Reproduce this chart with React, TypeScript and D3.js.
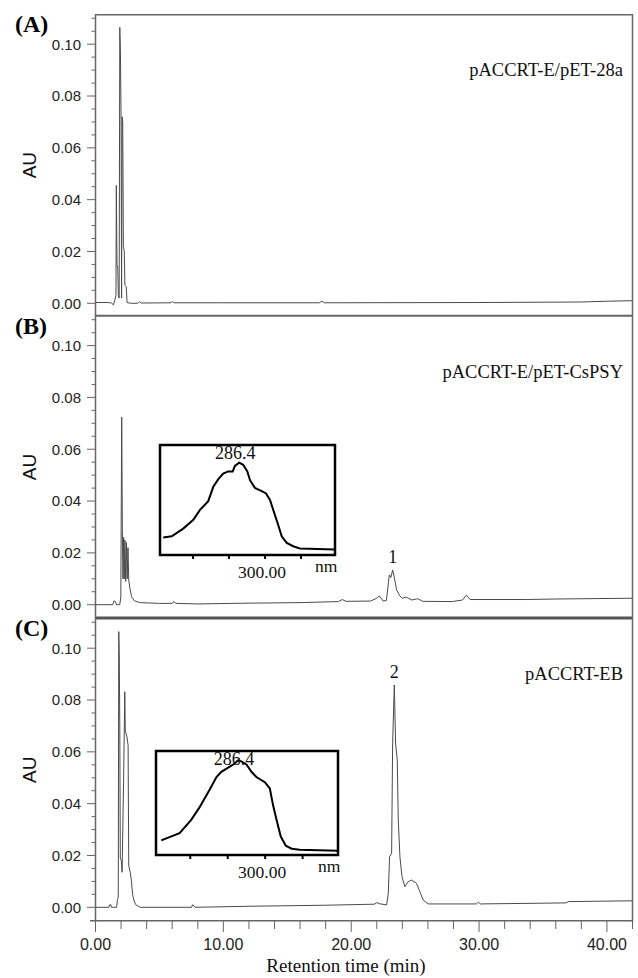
import React from "react";
import * as d3 from "d3";

// ---------- data ----------
const panelIds = ["(A)", "(B)", "(C)"];
const sampleNames = ["pACCRT-E/pET-28a", "pACCRT-E/pET-CsPSY", "pACCRT-EB"];

const traceA: [number, number][] = [
  [0, 0.0003], [1.0, 0.0003], [1.25, 0.0001], [1.4, -0.0006], [1.5, 0.001], [1.6, 0.003],
  [1.63, 0.0455], [1.68, 0.015], [1.74, 0.0135], [1.79, 0.003], [1.85, 0.002], [1.9, 0.1065],
  [1.95, 0.097], [2.0, 0.072], [2.04, 0.002], [2.08, 0.072], [2.13, 0.07], [2.18, 0.022],
  [2.25, 0.02], [2.3, 0.007], [2.4, 0.0065], [2.47, 0.0003], [2.8, 0.0], [3.3, 0.0],
  [3.45, 0.0006], [3.55, 0.0001], [5.9, 0.0002], [6.0, 0.0007], [6.15, 0.0002], [10, 0.0002],
  [17.5, 0.0002], [17.7, 0.0008], [17.9, 0.0002], [30, 0.0003], [38, 0.0005], [40, 0.0008], [42, 0.001],
];

const traceB: [number, number][] = [
  [0, 0.0], [1.35, 0.0], [1.45, 0.0015], [1.55, 0.0012], [1.65, 0.0], [1.9, 0.0], [1.98, 0.003],
  [2.05, 0.0724], [2.1, 0.029], [2.15, 0.01], [2.2, 0.026], [2.25, 0.01], [2.3, 0.025], [2.36, 0.009],
  [2.42, 0.024], [2.48, 0.01], [2.54, 0.022], [2.6, 0.0095], [2.7, 0.006], [2.83, 0.003], [3.04, 0.0015],
  [3.5, 0.0008], [5, 0.0005], [6.0, 0.0005], [6.1, 0.0012], [6.3, 0.0005], [8, 0.0003], [12, 0.0006],
  [16, 0.0008], [19.0, 0.0012], [19.3, 0.002], [19.6, 0.0013], [21.5, 0.0014], [22.0, 0.0025],
  [22.2, 0.0034], [22.5, 0.0014], [22.75, 0.0016], [22.98, 0.0115], [23.1, 0.0105], [23.24, 0.0134],
  [23.35, 0.011], [23.55, 0.0057], [23.8, 0.0034], [24.0, 0.0025], [24.3, 0.0029], [24.75, 0.0018],
  [25.2, 0.0023], [25.6, 0.0013], [27.9, 0.0012], [28.7, 0.0018], [29.0, 0.0037], [29.3, 0.002],
  [33.7, 0.002], [36, 0.0022], [42, 0.0025],
];

const traceC: [number, number][] = [
  [0, 0], [1.05, 0], [1.12, 0.001], [1.2, 0.001], [1.25, 0], [1.65, 0], [1.72, 0.003], [1.78, 0.004],
  [1.82, 0.1064], [1.86, 0.097], [1.9, 0.07], [1.94, 0.019], [2.02, 0.018], [2.08, 0.0135], [2.2, 0.05],
  [2.29, 0.0832], [2.33, 0.068], [2.45, 0.066], [2.55, 0.0625], [2.6, 0.016], [2.72, 0.0135],
  [2.8, 0.0105], [2.9, 0.005], [3.0, 0.0028], [3.15, 0.001], [3.5, 0.0], [7.5, 0.0], [7.6, 0.001],
  [7.8, 0.0], [12, 0.0004], [18, 0.0008], [21.8, 0.0012], [22.0, 0.0018], [22.2, 0.0014],
  [22.77, 0.0009], [22.9, 0.0054], [23.0, 0.0195], [23.16, 0.0208], [23.24, 0.0633], [23.37, 0.0858],
  [23.47, 0.0634], [23.6, 0.0569], [23.68, 0.0337], [23.81, 0.0195], [23.97, 0.0118], [24.2, 0.008],
  [24.46, 0.0099], [24.72, 0.0105], [25.1, 0.0093], [25.37, 0.006], [25.63, 0.0028], [26.02, 0.0013],
  [29.8, 0.0013], [29.95, 0.002], [30.1, 0.0013], [36.8, 0.0017], [37, 0.0022], [42, 0.0025],
];

// peak labels: [panel index, label, time, value]
const peakLabels: [number, string, number, number][] = [
  [1, "1", 23.24, 0.0134],
  [2, "2", 23.37, 0.0858],
];

// UV spectra (insets)
const spectrumB_nm = [243.5, 248.2, 254.6, 260.2, 263.9, 268.5, 271.3, 274.1, 276.8, 279.6, 282.1, 283.3, 285.7, 287.9, 290.2, 291.7, 294.4, 298.2, 300.6, 302.8, 305, 307.4, 309.3, 312.1, 315.7, 319.4, 338.9];
const spectrumB_v = [0.16, 0.17, 0.24, 0.32, 0.41, 0.49, 0.62, 0.69, 0.74, 0.76, 0.76, 0.81, 0.84, 0.82, 0.76, 0.68, 0.61, 0.58, 0.56, 0.5, 0.39, 0.27, 0.17, 0.11, 0.08, 0.06, 0.05];
const spectrumC_nm = [244.5, 254.3, 260.6, 265.0, 270.4, 274.0, 276.6, 281.1, 283.7, 285.5, 287.3, 290.0, 292.7, 295.3, 299.8, 302.5, 304.2, 306.2, 308.3, 311, 314.2, 318.5, 338.8];
const spectrumC_v = [0.14, 0.21, 0.34, 0.46, 0.63, 0.75, 0.8, 0.85, 0.88, 0.91, 0.9, 0.87, 0.8, 0.75, 0.7, 0.64, 0.48, 0.33, 0.18, 0.09, 0.06, 0.05, 0.04];
const spectrumPeakLabel = "286.4";
const spectrumTicks = [260, 280, 300, 320];
const spectrumTickLabel = "300.00";

const yMajorTicks = [0, 0.02, 0.04, 0.06, 0.08, 0.1];
const yTickLabels = ["0.00", "0.02", "0.04", "0.06", "0.08", "0.10"];
const xMajorTicks = [0, 10, 20, 30, 40];
const xTickLabels = ["0.00", "10.00", "20.00", "30.00", "40.00"];

// ---------- layout ----------
const W = 638;
const H = 978;
const SERIF = "'Liberation Serif', 'Times New Roman', serif";
const SANS = "'Liberation Sans', Arial, sans-serif";
const AXIS = "#666";
const TRACE = "#4a4a4a";

const layout = [
  { top: 14.7, zero: 303.3, bottom: 315.5 },
  { top: 316.5, zero: 604.7, bottom: 617.5 },
  { top: 618.7, zero: 907.3, bottom: 920.7 },
];

const x = d3.scaleLinear().domain([0, 42]).range([95.5, 632.5]);

export default function App() {
  const traces = [traceA, traceB, traceC];
  const minorY = d3.range(0, 0.1101, 0.005);
  const minorX = d3.range(0, 42.01, 2);

  const insets = [
    { nm: spectrumB_nm, v: spectrumB_v, x0: 160, x1: 335, y0: 445, y1: 555 },
    { nm: spectrumC_nm, v: spectrumC_v, x0: 156, x1: 338, y0: 751, y1: 855 },
  ];

  return (
    <svg width={W} height={H} style={{ position: "absolute", left: 0, top: 0, background: "#fff" }}>
      <rect x={0} y={0} width={W} height={H} fill="#fff" />
      {layout.map((p, i) => {
        const y = d3.scaleLinear().domain([0, 0.1]).range([p.zero, p.zero - 259.1]);
        const line = d3
          .line<[number, number]>()
          .x((d) => x(d[0]))
          .y((d) => y(d[1]));
        return (
          <g key={i}>
            {minorY
              .filter((v) => y(v) >= p.top + 1)
              .map((v, j) => {
                const major = yMajorTicks.some((m) => Math.abs(m - v) < 1e-6);
                return (
                  <line key={j} x1={major ? 87 : 91.5} x2={95.5} y1={y(v)} y2={y(v)} stroke={AXIS} strokeWidth={1} />
                );
              })}
            {yMajorTicks.map((v, j) => (
              <text key={j} x={81} y={y(v)} dy="0.36em" textAnchor="end" fontFamily={SANS} fontSize={15} fill="#222">
                {yTickLabels[j]}
              </text>
            ))}
            <text
              transform={`translate(${29},${(p.top + p.bottom) / 2}) rotate(-90)`}
              textAnchor="middle"
              dy="0.36em"
              fontFamily={SANS}
              fontSize={19}
              fill="#111"
            >
              AU
            </text>
            <path d={line(traces[i]) || ""} fill="none" stroke={TRACE} strokeWidth={1} />
            <text x={623} y={p.top + 61.5} textAnchor="end" fontFamily={SERIF} fontSize={18.5} fill="#111">
              {sampleNames[i]}
            </text>
            {peakLabels
              .filter((l) => l[0] === i)
              .map((l, j) => (
                <text key={j} x={x(l[2])} y={y(l[3]) - 6.5} textAnchor="middle" fontFamily={SERIF} fontSize={18} fill="#111">
                  {l[1]}
                </text>
              ))}
          </g>
        );
      })}

      {/* frame lines */}
      <line x1={95.5} x2={632.5} y1={14.7} y2={14.7} stroke={AXIS} strokeWidth={1.5} />
      <line x1={95.5} x2={632.5} y1={315.8} y2={315.8} stroke={AXIS} strokeWidth={2} />
      <line x1={95.5} x2={632.5} y1={618} y2={618} stroke="#555" strokeWidth={3} />
      <line x1={90} x2={632.5} y1={920.7} y2={920.7} stroke={AXIS} strokeWidth={1.5} />
      <line x1={95.5} x2={95.5} y1={14} y2={921.5} stroke={AXIS} strokeWidth={1.5} />
      <line x1={632.5} x2={632.5} y1={14} y2={921.5} stroke={AXIS} strokeWidth={1.5} />

      {/* panel ids */}
      {layout.map((p, i) => (
        <text key={i} x={15} y={p.top + 17.5} fontFamily={SERIF} fontWeight="bold" fontSize={24} fill="#000">
          {panelIds[i]}
        </text>
      ))}

      {/* x axis */}
      {minorX.map((t, j) => {
        const major = xMajorTicks.includes(t);
        return <line key={j} x1={x(t)} x2={x(t)} y1={921} y2={major ? 932 : 929} stroke={AXIS} strokeWidth={1} />;
      })}
      {xMajorTicks.map((t, j) => (
        <text key={j} x={x(t)} y={950} textAnchor="middle" fontFamily={SANS} fontSize={16} fill="#222">
          {xTickLabels[j]}
        </text>
      ))}
      <text x={346} y={971.5} textAnchor="middle" fontFamily={SERIF} fontSize={19} fill="#111">
        Retention time (min)
      </text>

      {/* insets */}
      {insets.map((ins, k) => {
        const sx = d3.scaleLinear().domain([241.7, 338.9]).range([ins.x0, ins.x1]);
        const sy = d3.scaleLinear().domain([0, 1]).range([ins.y1, ins.y0]);
        const pts: [number, number][] = ins.nm.map((n, j) => [n, ins.v[j]]);
        const line = d3
          .line<[number, number]>()
          .x((d) => sx(d[0]))
          .y((d) => sy(d[1]));
        const peakIdx = d3.maxIndex(ins.v);
        return (
          <g key={k}>
            <rect x={ins.x0} y={ins.y0} width={ins.x1 - ins.x0} height={ins.y1 - ins.y0} fill="#fff" stroke="#000" strokeWidth={2.5} />
            <path d={line(pts) || ""} fill="none" stroke="#000" strokeWidth={2} />
            {spectrumTicks.map((t, j) => (
              <line key={j} x1={sx(t)} x2={sx(t)} y1={ins.y1} y2={ins.y1 + 4} stroke="#000" strokeWidth={2} />
            ))}
            <text x={sx(ins.nm[peakIdx]) - 4} y={ins.y0 + 14} textAnchor="middle" fontFamily={SERIF} fontSize={18} fill="#111">
              {spectrumPeakLabel}
            </text>
            <text x={sx(300) - 3} y={ins.y1 + 23} textAnchor="middle" fontFamily={SERIF} fontSize={17.5} fill="#111">
              {spectrumTickLabel}
            </text>
            <text x={ins.x1 - 20} y={ins.y1 + 17} fontFamily={SERIF} fontSize={17.5} fill="#111">
              nm
            </text>
          </g>
        );
      })}
    </svg>
  );
}
